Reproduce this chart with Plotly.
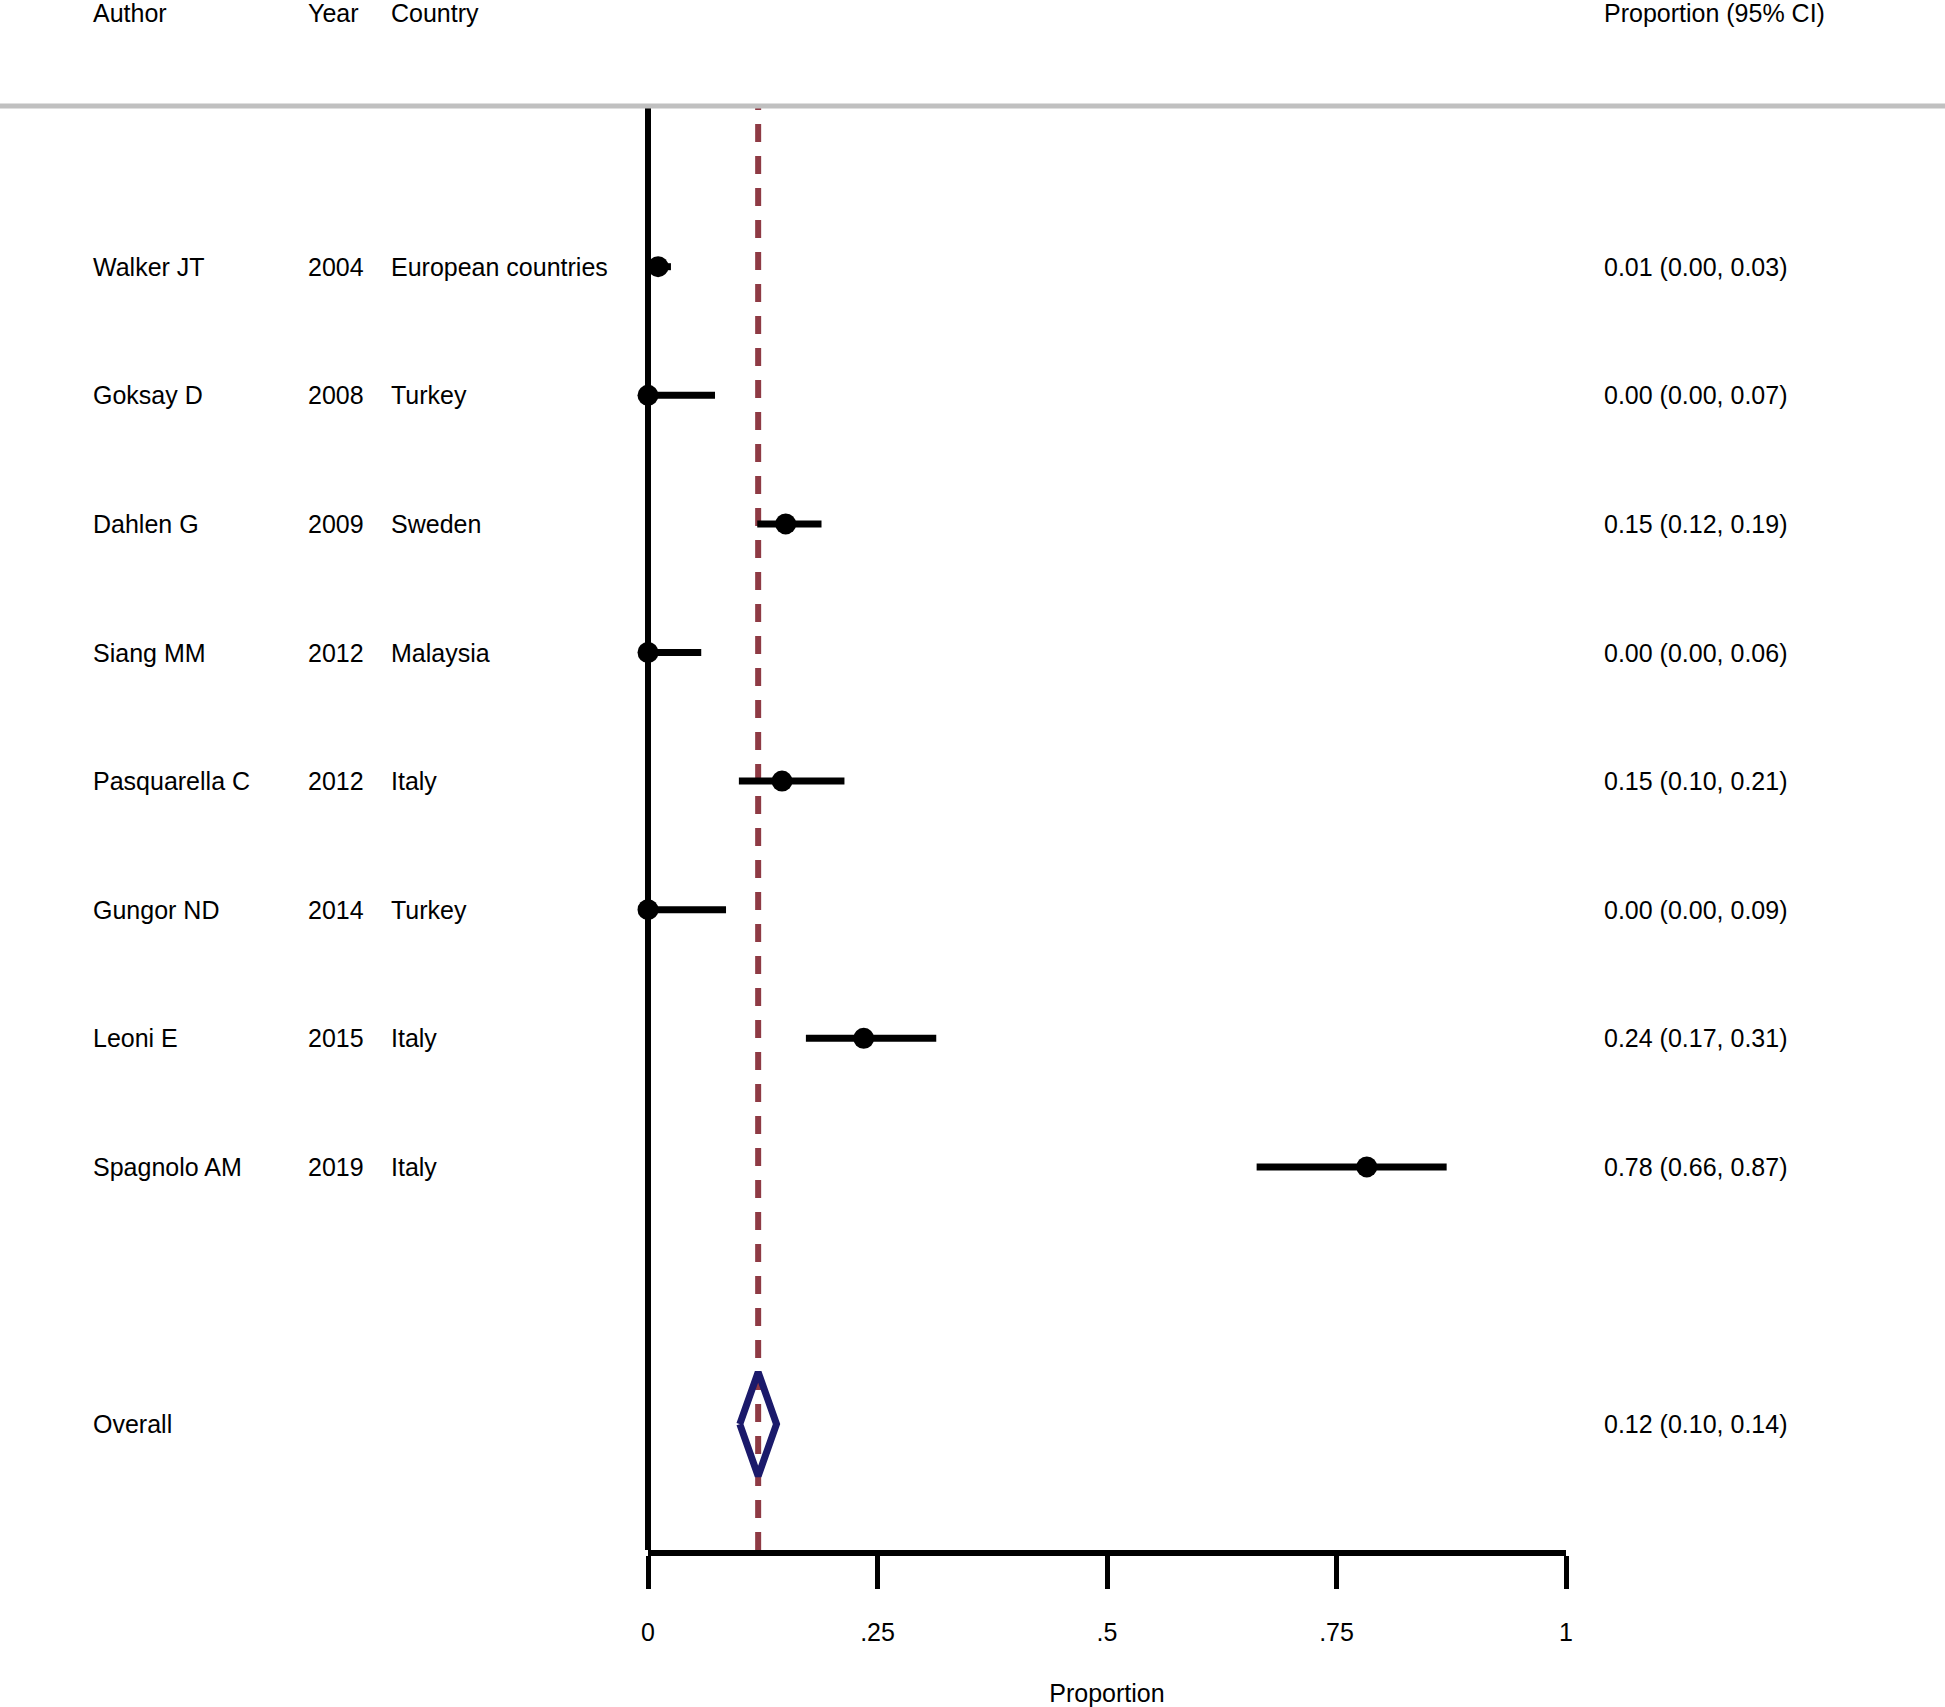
import plotly.graph_objects as go

authors = ["Walker JT", "Goksay D", "Dahlen G", "Siang MM", "Pasquarella C",
           "Gungor ND", "Leoni E", "Spagnolo AM"]
years = ["2004", "2008", "2009", "2012", "2012", "2014", "2015", "2019"]
countries = ["European countries", "Turkey", "Sweden", "Malaysia", "Italy",
             "Turkey", "Italy", "Italy"]
est = [0.011, 0.0, 0.150, 0.0, 0.146, 0.0, 0.235, 0.783]
lo = [0.003, 0.0, 0.119, 0.0, 0.099, 0.0, 0.172, 0.663]
hi = [0.025, 0.073, 0.189, 0.058, 0.214, 0.085, 0.314, 0.870]
ci_labels = ["0.01 (0.00, 0.03)", "0.00 (0.00, 0.07)", "0.15 (0.12, 0.19)",
             "0.00 (0.00, 0.06)", "0.15 (0.10, 0.21)", "0.00 (0.00, 0.09)",
             "0.24 (0.17, 0.31)", "0.78 (0.66, 0.87)"]
overall_label = "Overall"
overall_est, overall_lo, overall_hi = 0.12, 0.10, 0.14
overall_text = "0.12 (0.10, 0.14)"
headers = ["Author", "Year", "Country", "Proportion (95% CI)"]
tick_vals = [0, 0.25, 0.5, 0.75, 1]
tick_text = ["0", ".25", ".5", ".75", "1"]
x_title = "Proportion"

FONT = "Liberation Sans, Arial, Helvetica, sans-serif"
FS = 25
W, H = 1945, 1707
L, R, T, B = 648, 1945 - 1566, 105, 1707 - 1550
PW = W - L - R
PH = H - T - B
ROW0 = 266.7
ROWSTEP = 128.6

rows = list(range(len(authors)))
overall_row = len(authors) + 1

def px_to_paperx(px):
    return (px - L) / PW

def py_to_papery(py):
    return (H - B - py) / PH

y_top = -(ROW0 - T) / ROWSTEP
y_bot = (H - B - ROW0) / ROWSTEP

fig = go.Figure()

# reference dashed line at overall estimate
fig.add_shape(type="line", xref="x", yref="paper", x0=overall_est, x1=overall_est,
              y0=0, y1=1, line=dict(color="#8E3A44", width=6, dash="18px,14px"),
              layer="below")

# CI lines
cx, cy = [], []
for i in rows:
    cx += [lo[i], hi[i], None]
    cy += [i, i, None]
fig.add_trace(go.Scatter(x=cx, y=cy, mode="lines", line=dict(color="black", width=7),
                         cliponaxis=False, hoverinfo="skip", showlegend=False))
fig.add_trace(go.Scatter(x=est, y=rows, mode="markers",
                         marker=dict(color="black", size=21, line=dict(width=0)),
                         cliponaxis=False, showlegend=False))

# diamond
hh = 52 / ROWSTEP
fig.add_trace(go.Scatter(
    x=[overall_lo, overall_est, overall_hi, overall_est, overall_lo],
    y=[overall_row, overall_row - hh, overall_row, overall_row + hh, overall_row],
    mode="lines", line=dict(color="#1B1A6B", width=7), cliponaxis=False,
    showlegend=False))

# gray separator
fig.add_shape(type="line", xref="paper", yref="paper", x0=px_to_paperx(0),
              x1=px_to_paperx(W), y0=py_to_papery(106), y1=py_to_papery(106),
              line=dict(color="#C0C0C0", width=5))

col_x = [91, 305.6, 388.7, 1602]
ann = []
for hx, htxt in zip(col_x, headers):
    ann.append(dict(x=px_to_paperx(hx), y=py_to_papery(13), xref="paper", yref="paper",
                    text=htxt, showarrow=False, xanchor="left", yanchor="middle",
                    font=dict(family=FONT, size=FS, color="black")))
for i in rows:
    for cxp, txt in zip(col_x, [authors[i], years[i], countries[i], ci_labels[i]]):
        ann.append(dict(x=px_to_paperx(cxp), y=i, xref="paper", yref="y", text=txt,
                        showarrow=False, xanchor="left", yanchor="middle",
                        font=dict(family=FONT, size=FS, color="black")))
for cxp, txt in [(col_x[0], overall_label), (col_x[3], overall_text)]:
    ann.append(dict(x=px_to_paperx(cxp), y=overall_row, xref="paper", yref="y", text=txt,
                    showarrow=False, xanchor="left", yanchor="middle",
                    font=dict(family=FONT, size=FS, color="black")))

fig.update_layout(
    width=W, height=H, margin=dict(l=L, r=R, t=T, b=B, pad=0, autoexpand=False),
    paper_bgcolor="white", plot_bgcolor="white",
    annotations=ann, showlegend=False,
    xaxis=dict(range=[0, 1], showgrid=False, showline=True,
               zeroline=True, zerolinecolor="black", zerolinewidth=6,
               automargin=False,
               linecolor="black", linewidth=6, ticks="outside", ticklen=33,
               tickwidth=5, tickcolor="black", tickvals=tick_vals, ticktext=tick_text,
               tickfont=dict(family=FONT, size=FS, color="black"),
               ticklabelstandoff=22,
               title=dict(text=x_title, font=dict(family=FONT, size=FS, color="black"),
                          standoff=49)),
    yaxis=dict(range=[y_bot, y_top], showgrid=False, zeroline=False, showline=False,
               automargin=False, showticklabels=False, ticks=""),
)

fig.write_html("out.html", config={"displayModeBar": False},
               post_script="document.body.style.margin='0';document.body.style.padding='0';")
